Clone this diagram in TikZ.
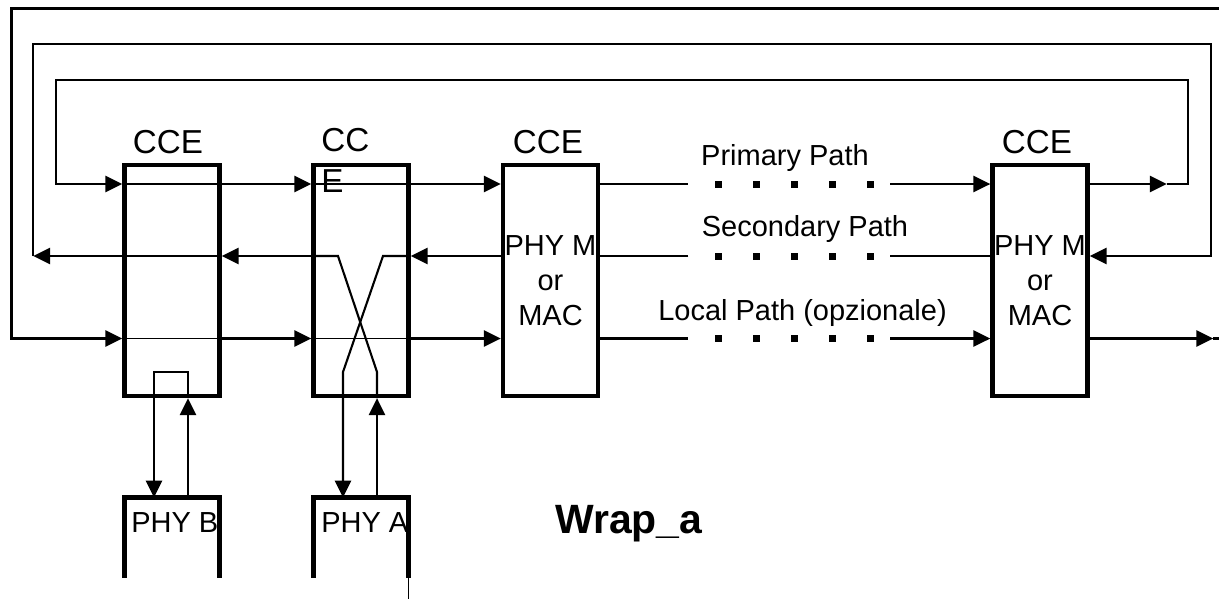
\documentclass[tikz,border=0pt]{standalone}
\usepackage{fontspec}
\setmainfont{Liberation Sans}
\usetikzlibrary{arrows.meta}

\begin{document}
\begin{tikzpicture}[x=0.02cm, y=-0.02cm,
  box/.style={rectangle, draw, line width=2.5pt, minimum width=1.9cm,
              minimum height=4.62cm, inner sep=0pt, align=center,
              font=\fontsize{16.5}{19.9}\selectfont},
  phybox/.style={rectangle, outer sep=0pt, minimum width=1.9cm,
                 minimum height=1.6cm, inner sep=0pt},
  lbl/.style={inner sep=0pt, font=\fontsize{18.9}{23.3}\selectfont},
  txt/.style={inner sep=0pt, font=\fontsize{16.5}{19.9}\selectfont},
  wire/.style={line width=1.2pt},
  thru/.style={line width=0.7pt},
  arr/.style={wire, -{Triangle[length=9.6pt, width=9.2pt]}},
  edge/.style={line width=2.5pt}
]
  \useasboundingbox (0,0) rectangle (1219,598);

  % rows, loop corners, gaps
  \coordinate (rowP) at (0,184);
  \coordinate (rowS) at (0,256);
  \coordinate (rowL) at (0,338.5);
  \coordinate (inL)  at (55.7,80);   \coordinate (inR)  at (1188.3,80);
  \coordinate (midL) at (33.3,44.3); \coordinate (midR) at (1211,44.3);
  \coordinate (outL) at (11.5,8.5);  \coordinate (outR) at (1219,8.5);
  \coordinate (gapL) at (688.3,0);   \coordinate (gapR) at (890,0);
  \coordinate (tipP) at (1166.7,184);
  \coordinate (tipL) at (1213.3,338.5);
  \coordinate (xTL) at (338,256);    \coordinate (xTR) at (383,256);
  \coordinate (xBL) at (343,372);    \coordinate (xBR) at (377,372);
  \coordinate (lpL) at (154,372);    \coordinate (lpR) at (188,372);

  % CCE boxes
  \node[box] (cceA) at (172,280.5)   {};
  \node[box] (cceB) at (361,280.5)   {};
  \node[box] (cceC) at (550.5,280.5) {PHY M\\or\\MAC};
  \node[box] (cceD) at (1040,280.5)  {PHY M\\or\\MAC};
  \node[phybox] (phyB) at (172,537.5) {};
  \node[phybox] (phyA) at (361,537.5) {};

  % labels
  \node[lbl] (lblA) at (168,142) {CCE};
  \node[lbl, align=left, anchor=north west] (lblB) at (321,128) {CC\\E};
  \node[lbl] (lblC) at (548,142) {CCE};
  \node[lbl] (lblD) at (1037,142) {CCE};
  \node[txt, anchor=base] (pathP) at (785,165)   {Primary Path};
  \node[txt, anchor=base] (pathS) at (805,236)   {Secondary Path};
  \node[txt, anchor=base] (pathL) at (802.5,320.7) {Local Path (opzionale)};
  \node[txt, anchor=base west] (txtB) at (131,532) {PHY B};
  \node[txt, anchor=base west] (txtA) at (321,532) {PHY A};
  \node[anchor=base west, inner sep=0pt,
        font=\fontsize{23.3}{28}\selectfont\bfseries] (wrapa) at (555,533) {Wrap\_a};

  % Primary path
  \draw[arr] (cceD.east |- rowP) -- (tipP);
  \draw[arr] (tipP) -- (inR |- rowP) -- (inR) -- (inL) -- (inL |- rowP) -- (cceA.west |- rowP);
  \draw[thru] (cceA.west |- rowP) -- (cceA.east |- rowP);
  \draw[arr] (cceA.east |- rowP) -- (cceB.west |- rowP);
  \draw[thru] (cceB.west |- rowP) -- (cceB.east |- rowP);
  \draw[arr] (cceB.east |- rowP) -- (cceC.west |- rowP);
  \draw[wire] (cceC.east |- rowP) -- (gapL |- rowP);
  \draw[arr] (gapR |- rowP) -- (cceD.west |- rowP);

  % Secondary path (wrap in cceB)
  \draw[arr] (cceC.west |- rowS) -- (cceB.east |- rowS);
  \draw[arr] (cceB.east |- rowS) -- (xTR) -- (xBL) -- (xBL |- phyA.north);
  \draw[arr] (xBR |- phyA.north) -- (xBR |- cceB.south);
  \draw[wire] (xBR |- cceB.south) -- (xBR) -- (xTL) -- (cceB.west |- rowS);
  \draw[arr] (cceB.west |- rowS) -- (cceA.east |- rowS);
  \draw[thru] (cceA.east |- rowS) -- (cceA.west |- rowS);
  \draw[arr] (cceA.west |- rowS) -- (midL |- rowS);
  \draw[arr] (midL |- rowS) -- (midL) -- (midR) -- (midR |- rowS) -- (cceD.east |- rowS);
  \draw[wire] (cceD.west |- rowS) -- (gapR |- rowS);
  \draw[wire] (gapL |- rowS) -- (cceC.east |- rowS);

  % Local path
  \draw[arr] (outR) -- (outL) -- (outL |- rowL) -- (cceA.west |- rowL);
  \draw[thru] (cceA.west |- rowL) -- (cceA.east |- rowL);
  \draw[arr] (cceA.east |- rowL) -- (cceB.west |- rowL);
  \draw[thru] (cceB.west |- rowL) -- (cceB.east |- rowL);
  \draw[arr] (cceB.east |- rowL) -- (cceC.west |- rowL);
  \draw[wire] (cceC.east |- rowL) -- (gapL |- rowL);
  \draw[arr] (gapR |- rowL) -- (cceD.west |- rowL);
  \draw[arr] (cceD.east |- rowL) -- (tipL);
  \draw[wire] (tipL) -- (outR |- rowL);

  % loopback in cceA
  \draw[arr] (lpR |- phyB.north) -- (lpR |- cceA.south);
  \draw[arr] (lpR |- cceA.south) -- (lpR) -- (lpL) -- (lpL |- phyB.north);

  % dotted gaps
  \foreach \yy in {184,256,338.5}
    \foreach \xx in {718,756,...,870}
      \fill (\xx-3.5,\yy-3.5) rectangle +(7,7);

  % PHY boxes, open at the bottom
  \draw[edge] (phyB.south west) -- (phyB.north west) -- (phyB.north east) -- (phyB.south east);
  \draw[edge] (phyA.south west) -- (phyA.north west) -- (phyA.north east) -- (phyA.south east);
  \draw[line width=0.6pt] (phyA.south east) -- ++(0,21);
\end{tikzpicture}
\end{document}
